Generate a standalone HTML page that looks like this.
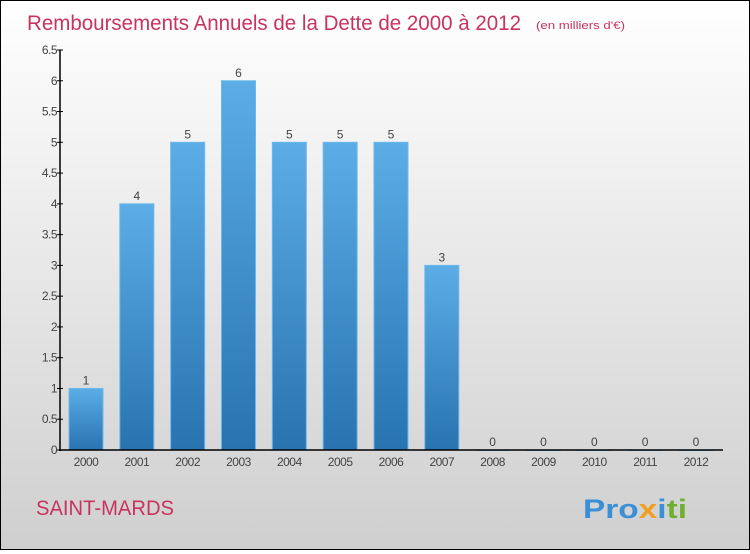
<!DOCTYPE html>
<html><head><meta charset="utf-8"><style>
html,body{margin:0;padding:0}
body{width:750px;height:550px;overflow:hidden;font-family:"Liberation Sans",sans-serif}
#wrap{position:absolute;left:0;top:0;width:748px;height:548px;border:1px solid #000;background:linear-gradient(#ffffff,#cfcfcf)}
</style></head><body>
<div id="wrap">
<svg id="chart" width="748" height="548">
<defs>
<linearGradient id="bg" x1="0" y1="0" x2="0" y2="1">
<stop offset="0" stop-color="#5cade6"/><stop offset="1" stop-color="#2873b0"/>
</linearGradient>
</defs>
<text x="26" y="29" font-size="21" fill="#c8345f" textLength="494" lengthAdjust="spacingAndGlyphs">Remboursements Annuels de la Dette de 2000 à 2012</text>
<text x="535" y="28" font-size="11" fill="#c8345f" textLength="89" lengthAdjust="spacingAndGlyphs">(en milliers d'€)</text>
<text x="35" y="514" font-size="21" fill="#c8345f" textLength="138" lengthAdjust="spacingAndGlyphs">SAINT-MARDS</text>
<text x="582" y="517" font-size="27" font-weight="bold" textLength="104" lengthAdjust="spacingAndGlyphs"><tspan fill="#3a8fd6">Pro</tspan><tspan fill="#f0a020">x</tspan><tspan fill="#3a8fd6">i</tspan><tspan fill="#70b030">ti</tspan></text>
<g id="plot"></g>
</svg>
</div>
<script>
const categories=["2000","2001","2002","2003","2004","2005","2006","2007","2008","2009","2010","2011","2012"];
const values=[1,4,5,6,5,5,5,3,0,0,0,0,0];
const ticks=[0,0.5,1,1.5,2,2.5,3,3.5,4,4.5,5,5.5,6,6.5];
const NS="http://www.w3.org/2000/svg";
const g=document.getElementById('plot');
const x0=59,y0=449,yTop=49,yMax=6.5;
function y(v){return y0-(y0-yTop)*v/yMax;}
function xc(i){return 85+i*50.83;}
function el(t,a){const e=document.createElementNS(NS,t);for(const k in a)e.setAttribute(k,a[k]);g.appendChild(e);return e;}
ticks.forEach(t=>{
 const l=el('line',{x1:x0-3,x2:x0+3,y1:y(t),y2:y(t),stroke:'#000'});
 
 
 const tx=el('text',{x:x0-3,y:y(t)+4,'text-anchor':'end','font-size':12,fill:'#444','letter-spacing':'-0.5'});
 tx.textContent=String(t);
 
 
});
categories.forEach((c,i)=>{
 const v=values[i],top=y(v);
 const r=el('rect',{x:xc(i)-17,y:top,width:34,height:Math.max(y0-top,0.5),fill:'url(#bg)',stroke:'#6bb8ec','stroke-width':1});
 
 
 const vl=el('text',{x:xc(i),y:top-4,'text-anchor':'middle','font-size':12,fill:'#444'});
 vl.textContent=String(v);
 
 
 const xl=el('text',{x:xc(i),y:y0+16,'text-anchor':'middle','font-size':12,fill:'#444','letter-spacing':'-0.5'});
 xl.textContent=c;
 
 
});
const ya=el('line',{x1:x0,x2:x0,y1:yTop,y2:y0+1,stroke:'#000','stroke-width':1.5});


const xa=el('line',{x1:x0-1,x2:722,y1:y0,y2:y0,stroke:'#000','stroke-width':1.5});


</script>
</body></html>
